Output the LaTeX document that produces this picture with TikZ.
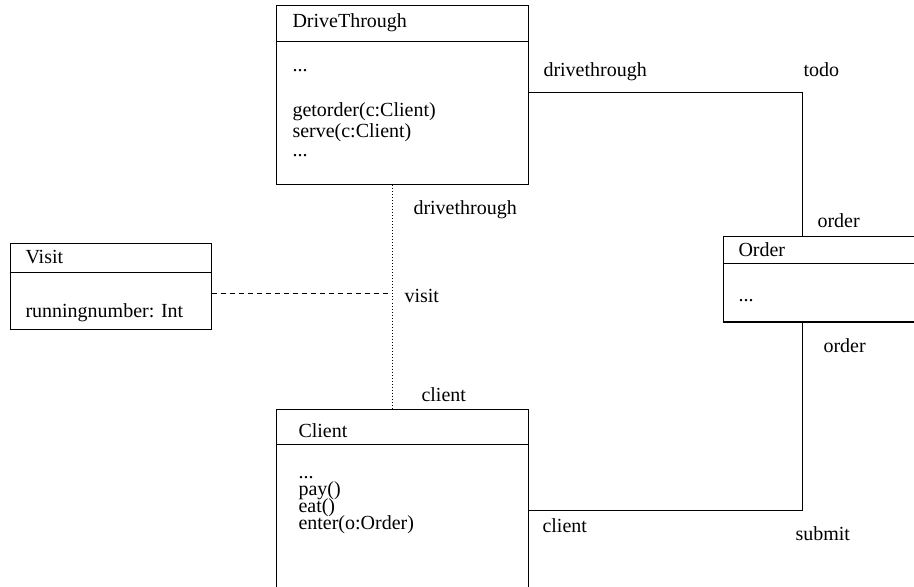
\documentclass[tikz,border=0pt]{standalone}
\usepackage{fontspec}
\setmainfont{Liberation Serif}
\usetikzlibrary{fit}
\newcommand{\umldots}{...}
\tikzset{px/.style={x=.5pt,y=-.5pt,line width=.5pt,font=\fontsize{10}{12}\selectfont},
  cls/.style={draw,inner sep=0pt},
  txt/.style={anchor=base west,inner sep=0pt}}

\begin{document}
\begin{tikzpicture}[px]
  \useasboundingbox (0,0) rectangle (914,587);
  % classes
  \node[cls,fit={(276.5,6) (528,185)}] (drive) {};
  \node[cls,fit={(10,244) (211,329)}] (visit) {};
  \node[cls,fit={(723,237) (940,322)}] (order) {};
  \node[cls,fit={(276.5,409) (528,600)}] (client) {};
  \draw (drive.west |- 0,42) -- (drive.east |- 0,42);
  \draw (visit.west |- 0,273) -- (visit.east |- 0,273);
  \draw (order.west |- 0,264) -- (order.east |- 0,264);
  \draw (client.west |- 0,444) -- (client.east |- 0,444);
  \node[txt] (drivename) at (292,28) {DriveThrough};
  \node[txt] (visitname) at (25,264) {Visit};
  \node[txt] (ordername) at (738,257) {Order};
  \node[txt] (clientname) at (298,437) {Client};
  \foreach \t/\y [count=\i] in {\umldots/72,{getorder(c:Client)}/117,{serve(c:Client)}/138,\umldots/157}
    {\node[txt] (drivem\i) at (292,\y) {\t};}
  \node[txt] (visitm) at (25,318) {runningnumber: Int};
  \node[txt] (orderm) at (738,301) {\umldots};
  \foreach \t/\y [count=\i] in {\umldots/478,pay()/495,eat()/512,{enter(o:Order)}/529}
    {\node[txt] (clientm\i) at (298,\y) {\t};}
  % associations
  \coordinate (bendtop) at (802,93);
  \coordinate (bendbot) at (802,510);
  \coordinate (assoc) at (392,294);
  \draw (drive.east |- bendtop) -- (bendtop) -- (order.north -| bendtop);
  \draw (order.south -| bendbot) -- (bendbot) -- (client.east |- bendbot);
  \draw[dash pattern=on .5pt off 1pt] (drive.south -| assoc) -- (client.north -| assoc);
  \draw[dash pattern=on 2.5pt off 2pt] (visit.east |- assoc) -- (assoc);
  % roles
  \foreach \t/\x/\y [count=\i] in {drivethrough/543/77,todo/803/77,order/817/228,drivethrough/413/215,visit/404/302,client/421/401,order/823/352,client/542/532,submit/795/540}
    {\node[txt] (role\i) at (\x,\y) {\t};}
\end{tikzpicture}
\end{document}
